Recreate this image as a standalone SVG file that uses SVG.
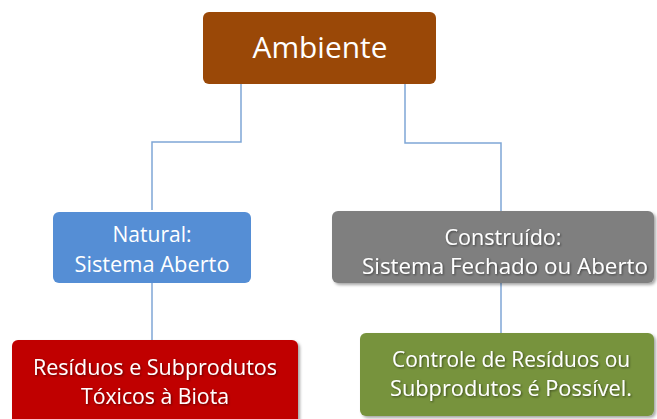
<svg xmlns="http://www.w3.org/2000/svg" width="657" height="419" viewBox="0 0 657 419">
<defs>
<filter id="sh" x="-10%" y="-10%" width="130%" height="140%">
<feDropShadow dx="2" dy="2" stdDeviation="1.5" flood-color="#000" flood-opacity="0.35"/>
</filter>
<filter id="tsh" x="-10%" y="-20%" width="130%" height="150%">
<feDropShadow dx="1" dy="1" stdDeviation="1" flood-color="#000" flood-opacity="0.5"/>
</filter>
</defs>
<style>
.t{font-family:"Open Sans","Liberation Sans",sans-serif;fill:#fff;text-anchor:middle;font-size:21.5px}
.c{fill:none;stroke:#7fa6d6;stroke-width:1.5}
</style>
<g id="connectors">
<polyline class="c" points="241,84 241,142 152,142 152,210"/>
<polyline class="c" points="405,84 405,143 501,143 501,211"/>
<line class="c" x1="152" y1="283" x2="152" y2="340"/>
<line class="c" x1="501" y1="283" x2="501" y2="333"/>
</g>
<g id="ambiente">
<rect x="203" y="12" width="233" height="72" rx="6" fill="#9a4807"/>
<text class="t" x="320" y="58" style="font-size:30px" textLength="135" lengthAdjust="spacingAndGlyphs">Ambiente</text>
</g>
<g id="natural">
<rect x="53" y="212" width="198" height="71" rx="6" fill="#558ed5"/>
<text class="t" x="152" y="242" textLength="79" lengthAdjust="spacingAndGlyphs">Natural:</text>
<text class="t" x="152" y="272" textLength="155" lengthAdjust="spacingAndGlyphs">Sistema Aberto</text>
</g>
<g id="construido">
<rect x="332" y="211" width="322" height="72" rx="6" fill="#7f7f7f" filter="url(#sh)"/>
<g filter="url(#tsh)">
<text class="t" x="503" y="245" textLength="117" lengthAdjust="spacingAndGlyphs">Construído:</text>
<text class="t" x="505" y="274" textLength="286" lengthAdjust="spacingAndGlyphs">Sistema Fechado ou Aberto</text>
</g>
</g>
<g id="residuos">
<rect x="12" y="340" width="286" height="90" rx="6" fill="#c00000" filter="url(#sh)"/>
<g filter="url(#tsh)">
<text class="t" x="155" y="375" textLength="244" lengthAdjust="spacingAndGlyphs">Resíduos e Subprodutos</text>
<text class="t" x="155" y="404" textLength="148" lengthAdjust="spacingAndGlyphs">Tóxicos à Biota</text>
</g>
</g>
<g id="controle">
<rect x="360" y="333" width="294" height="83" rx="6" fill="#77933c" filter="url(#sh)"/>
<g filter="url(#tsh)">
<text class="t" x="511" y="367" textLength="238" lengthAdjust="spacingAndGlyphs">Controle de Resíduos ou</text>
<text class="t" x="511" y="396" textLength="242" lengthAdjust="spacingAndGlyphs">Subprodutos é Possível.</text>
</g>
</g>
</svg>
